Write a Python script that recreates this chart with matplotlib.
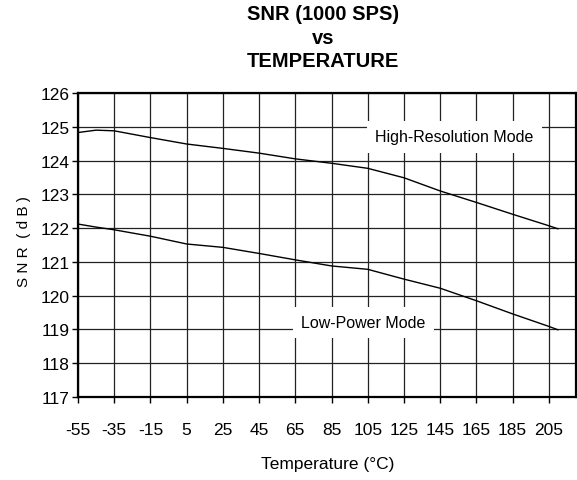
import matplotlib.pyplot as plt

# Données (SNR en dB selon la température)
temp = [-55, -45, -35, -15, 5, 25, 45, 65, 85, 105, 125, 145, 165, 185, 205, 210]
snr_high_res = [124.83, 124.9, 124.88, 124.68, 124.49, 124.36, 124.22, 124.05,
                123.92, 123.77, 123.49, 123.1, 122.76, 122.41, 122.07, 121.98]
snr_low_power = [122.12, 122.03, 121.95, 121.76, 121.53, 121.43, 121.25, 121.06,
                 120.88, 120.78, 120.49, 120.22, 119.85, 119.46, 119.09, 118.99]

x_ticks = list(range(-55, 206, 20))
y_ticks = list(range(117, 127))

plt.rcParams['font.family'] = ['Liberation Sans', 'DejaVu Sans']
plt.rcParams['axes.unicode_minus'] = False

fig = plt.figure(figsize=(5.77, 4.81), dpi=100)
ax = fig.add_axes([78 / 577, 1 - 398 / 481, (576 - 78) / 577, (398 - 94) / 481])

ax.plot(temp, snr_high_res, color='black', lw=1.0, zorder=3)
ax.plot(temp, snr_low_power, color='black', lw=1.0, zorder=3)

ax.set_xlim(-55, 220)
ax.set_ylim(117, 126)
ax.set_xticks(x_ticks)
ax.set_yticks(y_ticks)
ax.grid(True, color='#222222', lw=0.9)
ax.set_axisbelow(True)

for s in ax.spines.values():
    s.set_linewidth(1.6)

ax.tick_params(axis='both', direction='out', length=4, width=1, labelsize=12.5, pad=2)
ax.tick_params(axis='x', pad=14)

# étiquettes des courbes sur fond blanc
ax.text(153, 124.7, 'High-Resolution Mode', fontsize=11.5, ha='center', va='center',
        bbox=dict(facecolor='white', edgecolor='none', pad=6), zorder=4)
ax.text(102.5, 119.2, 'Low-Power Mode', fontsize=11.5, ha='center', va='center',
        bbox=dict(facecolor='white', edgecolor='none', pad=6), zorder=4)

fig.text(24 / 577, 1 - 242 / 481, 'S N R  ( d B )', rotation=90, fontsize=11,
         ha='center', va='center')
fig.text(328 / 577, 1 - 465 / 481, 'Temperature (°C)', fontsize=12.5,
         ha='center', va='center')
fig.text(323 / 577, 1 - 38 / 481, 'SNR (1000 SPS)\nvs\nTEMPERATURE', fontsize=14.5,
         fontweight='bold', ha='center', va='center', linespacing=1.3)

fig.savefig('out.png', dpi=100)
